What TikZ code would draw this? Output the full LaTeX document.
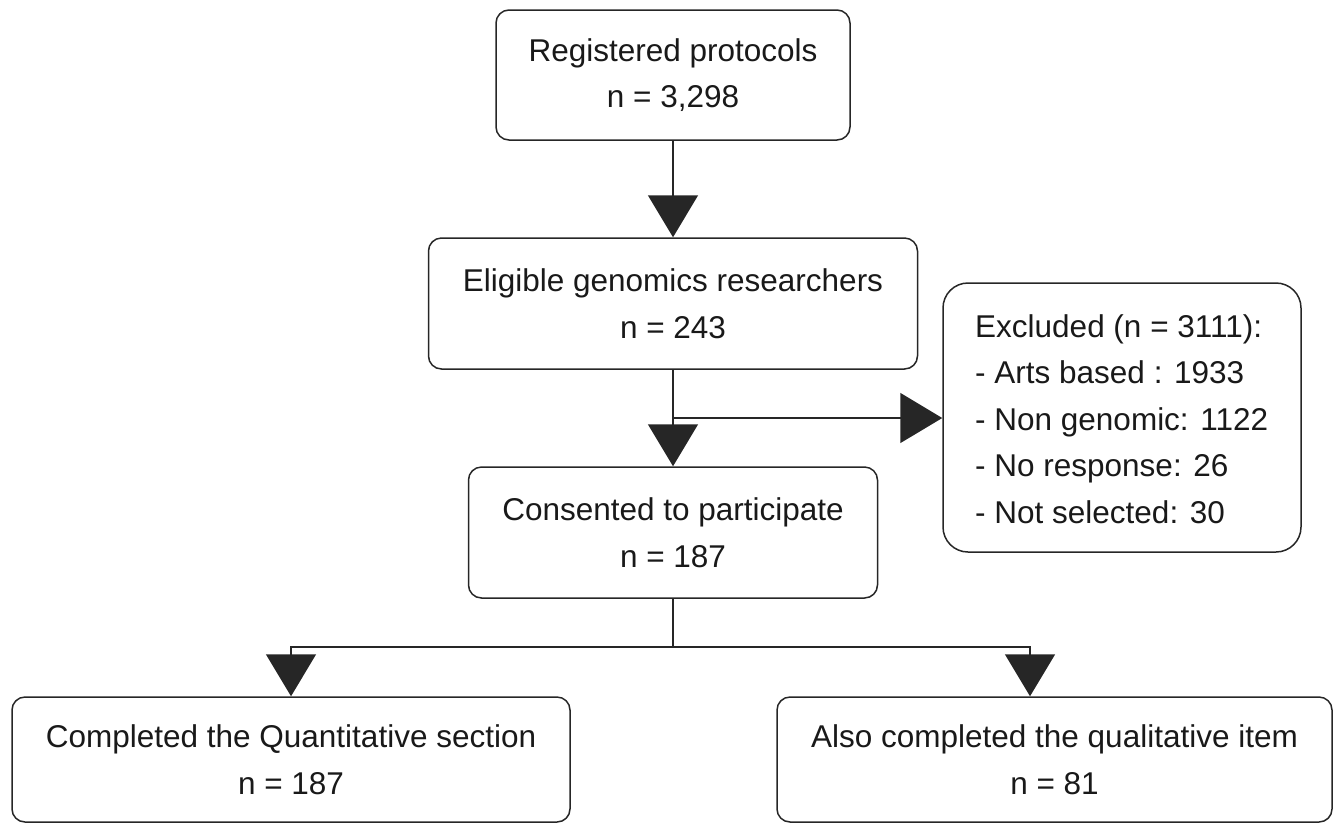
\documentclass[tikz,border=0pt]{standalone}
\usepackage{fontspec}
\setmainfont{Liberation Sans}
\usetikzlibrary{arrows.meta}
\begin{document}
\begin{tikzpicture}[x=1pt,y=-1pt,
  box/.style={draw=black!85, line width=1.5pt, rounded corners=13pt, inner sep=0pt,
    align=center, font=\fontsize{31.5}{46.5}\selectfont, text=black!90},
  conn/.style={line width=1.5pt, draw=black!85},
  arr/.style={conn, -{Triangle[width=50pt,length=42pt]}},
  txt/.style={inner sep=0pt, align=left, font=\fontsize{31.5}{46.5}\selectfont, text=black!90}
]
\useasboundingbox (0,0) rectangle (1338,823);
\node[box, minimum width=354pt, minimum height=130pt] (reg) at (673,75) {Registered protocols\\n = 3,298};
\node[box, minimum width=489pt, minimum height=131pt] (elig) at (673,303.5) {Eligible genomics researchers\\n = 243};
\node[box, minimum width=409pt, minimum height=131pt] (cons) at (673,532.5) {Consented to participate\\n = 187};
\node[box, rounded corners=25pt, minimum width=358pt, minimum height=269pt] (excl) at (1122,417.5) {};
\node[txt, anchor=north west] (excltxt) at (975,314) {Excluded (n = 3111):\\- Arts based : 1933\\- Non genomic: 1122\\- No response: 26\\- Not selected: 30};
\node[box, minimum width=558pt, minimum height=125pt] (quant) at (291,759.5) {Completed the Quantitative section\\n = 187};
\node[box, minimum width=555pt, minimum height=125pt] (qual) at (1054.5,759.5) {Also completed the qualitative item\\n = 81};

\draw[arr] (reg.south) -- (elig.north);
\draw[arr] (elig.south) -- (cons.north);
\coordinate (br) at (673,418);
\draw[arr] (br) -- (br -| excl.west);
\coordinate (split) at (673,647);
\coordinate (qa) at (1030,647);
\draw[conn] (cons.south) -- (split);
\draw[arr] (split) -| (quant.north);
\draw[arr] (split) -- (qa) -- (qa |- qual.north);
\end{tikzpicture}
\end{document}
